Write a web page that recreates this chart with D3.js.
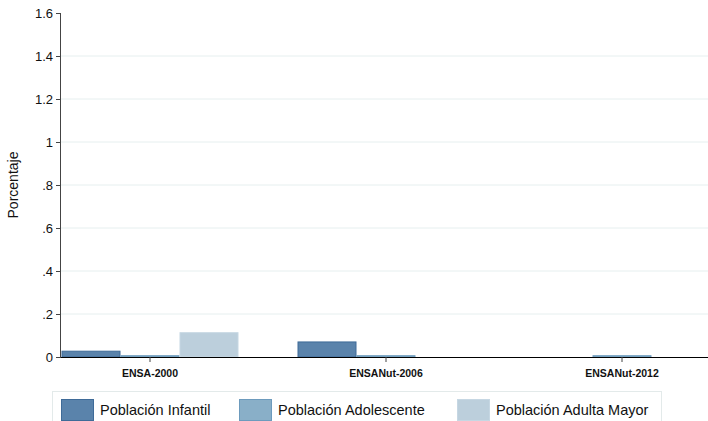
<!DOCTYPE html>
<html><head><meta charset="utf-8">
<script src="https://cdn.jsdelivr.net/npm/d3@7"></script>
<style>body{margin:0;background:#fff}svg{display:block;font-family:"Liberation Sans",Arial,sans-serif}</style>
</head><body><svg id="c" width="708" height="421"></svg>
<script>
const categories = ["ENSA-2000", "ENSANut-2006", "ENSANut-2012"];
const seriesNames = ["Población Infantil", "Población Adolescente", "Población Adulta Mayor"];
const infantil = [0.027, 0.070, null];
const adolescente = [0.006, 0.006, 0.006];
const adultaMayor = [0.113, null, null];
const yTicks = [0, 0.2, 0.4, 0.6, 0.8, 1, 1.2, 1.4, 1.6];
const yTickLabels = ["0", ".2", ".4", ".6", ".8", "1", "1.2", "1.4", "1.6"];

const series = [infantil, adolescente, adultaMayor];
const fills = ["#5a83ab", "#89afc8", "#bccfdc"];
const strokes = ["#3f6b98", "#6d9bbd", "#c6d7e3"];

const svg = d3.select("#c");
const pLeft = 61, pRight = 710.5, pTop = 13, pBottom = 357;
const y = d3.scaleLinear().domain([0, 1.6]).range([pBottom, pTop]);
const x0 = d3.scaleBand().domain(categories).range([pLeft + 0.5, pRight]).paddingInner(0.25).paddingOuter(0);
const x1 = d3.scaleBand().domain(d3.range(series.length)).range([0, x0.bandwidth()]);

// grid
svg.append("g").selectAll("line").data(yTicks.filter(t => t > 0 && t < 1.6)).join("line")
  .attr("x1", pLeft).attr("x2", 708).attr("y1", d => y(d)).attr("y2", d => y(d))
  .attr("stroke", "#e6efef").attr("stroke-width", 1);

// bars
series.forEach((vals, si) => {
  svg.append("g").selectAll("rect").data(categories.map((c, i) => ({c, v: vals[i]})).filter(d => d.v != null)).join("rect")
    .attr("x", d => x0(d.c) + x1(si) + 0.5)
    .attr("width", x1.bandwidth() - 1)
    .attr("y", d => y(d.v))
    .attr("height", d => Math.max(0.8, y(0) - y(d.v)))
    .attr("fill", fills[si]).attr("stroke", strokes[si]).attr("stroke-width", 1);
});

// y axis
const yAxis = d3.axisLeft(y).tickValues(yTicks).tickFormat((d, i) => yTickLabels[i]).tickSize(5).tickPadding(3);
const gy = svg.append("g").attr("transform", `translate(${pLeft},0)`).call(yAxis);
gy.select(".domain").attr("stroke", "#444").attr("d", `M-0.5,${pTop}V${pBottom}`);
gy.selectAll(".tick line").attr("stroke", "#444");
gy.selectAll("text").attr("font-size", 13).attr("fill", "#111").attr("font-family", '"Liberation Sans",Arial,sans-serif');

// x axis
const xAxis = d3.axisBottom(x0).tickSize(5).tickPadding(8);
const gx = svg.append("g").attr("transform", `translate(0,${pBottom})`).call(xAxis);
gx.select(".domain").attr("stroke", "#000").attr("stroke-width", 1.2).attr("d", `M${pLeft},0.5H708`);
gx.selectAll(".tick line").attr("stroke", "#444");
gx.selectAll("text").attr("font-size", 10.5).attr("font-weight", "bold").attr("fill", "#111")
  .attr("font-family", '"Liberation Sans",Arial,sans-serif');

// y title
svg.append("text").attr("transform", "translate(18,185) rotate(-90)").attr("text-anchor", "middle")
  .attr("font-size", 14).attr("fill", "#111").text("Porcentaje");

// legend
svg.append("rect").attr("x", 52.5).attr("y", 391.5).attr("width", 609).attr("height", 40)
  .attr("fill", "#fff").attr("stroke", "#e3eaea");
const legX = [61, 239, 457];
seriesNames.forEach((n, i) => {
  const g = svg.append("g").attr("transform", `translate(${legX[i]},399)`);
  g.append("rect").attr("x", 0.5).attr("y", 0.5).attr("width", 32).attr("height", 21)
    .attr("fill", fills[i]).attr("stroke", strokes[i]);
  g.append("text").attr("x", 39).attr("y", 16).attr("font-size", 14.5).attr("fill", "#111").text(n);
});
</script></body></html>
